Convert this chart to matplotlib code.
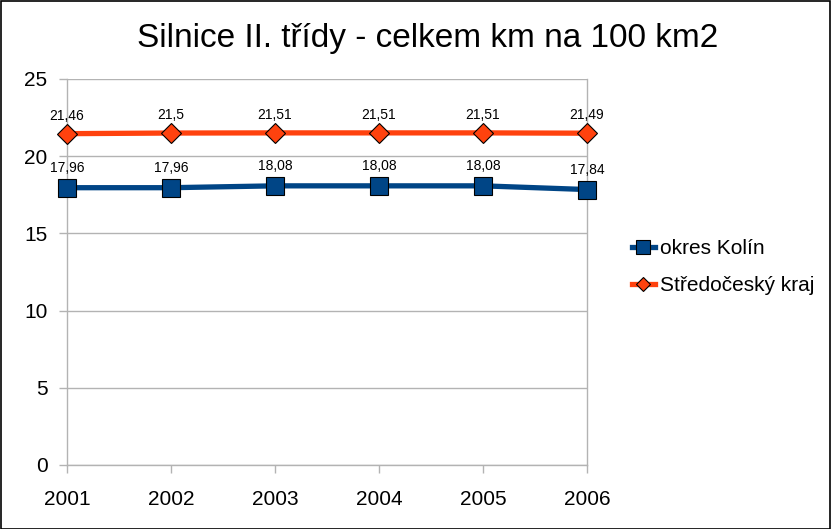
import matplotlib
matplotlib.use("Agg")
import matplotlib.pyplot as plt
from matplotlib.patches import Rectangle

plt.rcParams['font.family'] = ['Liberation Sans', 'DejaVu Sans']

years = ['2001', '2002', '2003', '2004', '2005', '2006']
kolin = [17.96, 17.96, 18.08, 18.08, 18.08, 17.84]
kraj = [21.46, 21.5, 21.51, 21.51, 21.51, 21.49]
kolin_labels = ['17,96', '17,96', '18,08', '18,08', '18,08', '17,84']
kraj_labels = ['21,46', '21,5', '21,51', '21,51', '21,51', '21,49']
title = 'Silnice II. třídy - celkem km na 100 km2'

W, H = 831, 529
fig = plt.figure(figsize=(W / 100, H / 100), dpi=100)
ax = fig.add_axes([67 / W, 1 - 465 / H, (587 - 67) / W, (465 - 79) / H])

x = list(range(len(years)))
ax.plot(x, kolin, color='#004586', lw=3.8, marker='s', ms=13,
        mfc='#004586', mec='black', mew=0.8, label='okres Kolín', zorder=3,
        clip_on=False)
ax.plot(x, kraj, color='#ff420e', lw=3.8, marker='D', ms=10,
        mfc='#ff420e', mec='black', mew=0.8, label='Středočeský kraj', zorder=3,
        clip_on=False)

for xi, v, t in zip(x, kolin, kolin_labels):
    ax.annotate(t, (xi, v), xytext=(0, 9), textcoords='offset points',
                ha='center', va='bottom', fontsize=10)
for xi, v, t in zip(x, kraj, kraj_labels):
    ax.annotate(t, (xi, v), xytext=(0, 8), textcoords='offset points',
                ha='center', va='bottom', fontsize=10)

ax.set_xlim(0, len(years) - 1)
ax.set_ylim(0, 25)
ax.set_yticks([0, 5, 10, 15, 20, 25])
ax.set_xticks(x)
ax.set_xticklabels(years)
ax.tick_params(axis='both', labelsize=15, color='#b3b3b3', length=6, width=1)
ax.tick_params(axis='x', pad=12)
ax.tick_params(axis='y', pad=8)
ax.yaxis.grid(True, color='#b3b3b3', lw=1)
ax.set_axisbelow(True)
ax.spines['top'].set_visible(False)
for s in ['left', 'right', 'bottom']:
    ax.spines[s].set_color('#b3b3b3')
    ax.spines[s].set_linewidth(1)

fig.text(428 / W, 1 - 38 / H, title, ha='center', va='center', fontsize=24)

leg = ax.legend(loc='center left', bbox_to_anchor=(613 / W, 1 - 267 / H),
                bbox_transform=fig.transFigure, frameon=False, fontsize=15,
                handlelength=1.1, handletextpad=0.25, labelspacing=0.85,
                markerscale=0.75)

fig.add_artist(Rectangle((0.5 / W, 0.5 / H), 1 - 1.5 / W, 1 - 1.5 / H,
                         transform=fig.transFigure, fill=False,
                         edgecolor='black', lw=1.2))

fig.savefig('out.png', dpi=100)
